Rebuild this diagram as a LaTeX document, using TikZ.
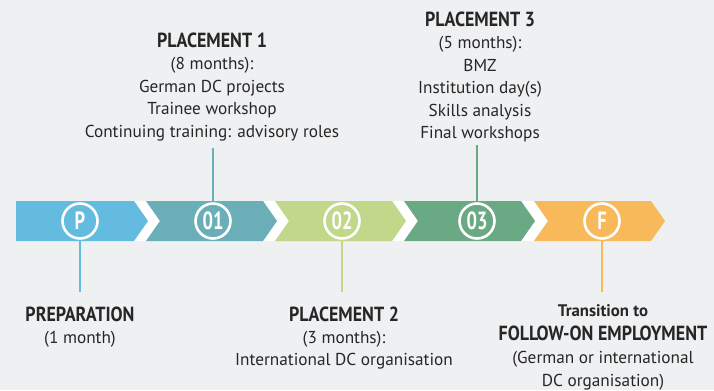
\documentclass[tikz,border=0pt]{standalone}
\usepackage{fontspec}
\setmainfont{PT Sans}
\newfontfamily\hdfont[FakeStretch=0.88]{PT Sans}
\newfontfamily\numfont[FakeStretch=0.74]{PT Sans}
\definecolor{bgc}{HTML}{EFF0F2}
\definecolor{cP}{HTML}{63BBE0}
\definecolor{cA}{HTML}{6AAFB8}
\definecolor{cB}{HTML}{C1D88A}
\definecolor{cC}{HTML}{69A984}
\definecolor{cF}{HTML}{F7B95A}
\definecolor{txt}{HTML}{262626}
\tikzset{
  seg/.style={fill=#1, draw=none},
  gapw/.style={fill=white, draw=none},
  ring/.style={circle, draw=white, line width=2.6bp, minimum size=35bp, inner sep=0pt,
    text=white, font=\numfont\bfseries\fontsize{25}{25}\selectfont},
  stem/.style={draw=#1, line width=2.4bp},
  lbl/.style={anchor=base, text=txt, inner sep=0pt, font=\fontsize{17.3}{20}\selectfont},
  hd/.style={anchor=base, text=txt, inner sep=0pt, font=\hdfont\bfseries\fontsize{20.5}{22}\selectfont},
  hdsmall/.style={anchor=base, text=txt, inner sep=0pt, font=\bfseries\fontsize{16.8}{20}\selectfont}
}
\begin{document}
\begin{tikzpicture}[x=1bp,y=-1bp]
\fill[bgc] (0,0) rectangle (714,390);
\useasboundingbox (0,0) rectangle (714,390);
% white chevron gaps
\fill[gapw] (134,201) -- (146,201) -- (160,221) -- (146,241) -- (134,241) -- (148,221) -- cycle;
\fill[gapw] (263,201) -- (275,201) -- (289,221) -- (275,241) -- (263,241) -- (277,221) -- cycle;
\fill[gapw] (392,201) -- (404,201) -- (418,221) -- (404,241) -- (392,241) -- (406,221) -- cycle;
\fill[gapw] (521,201) -- (534,201) -- (548,221) -- (534,241) -- (521,241) -- (535,221) -- cycle;
% segments
\fill[seg=cP] (16,201) -- (134,201) -- (148,221) -- (134,241) -- (16,241) -- cycle;
\fill[seg=cA] (146,201) -- (263,201) -- (277,221) -- (263,241) -- (146,241) -- (160,221) -- cycle;
\fill[seg=cB] (275,201) -- (392,201) -- (406,221) -- (392,241) -- (275,241) -- (289,221) -- cycle;
\fill[seg=cC] (404,201) -- (521,201) -- (535,221) -- (521,241) -- (404,241) -- (418,221) -- cycle;
\fill[seg=cF] (534,201) -- (651,201) -- (665,221) -- (651,241) -- (534,241) -- (548,221) -- cycle;
% circles
\node[ring] (nP) at (80,221) {P};
\node[ring] (n1) at (213,221) {01};
\node[ring] (n2) at (342,221) {02};
\node[ring] (n3) at (477,221) {03};
\node[ring] (nF) at (602,221) {F};
% stem end points
\coordinate (eP) at (80,292);
\coordinate (e1) at (213,148);
\coordinate (e2) at (342,292);
\coordinate (e3) at (477,145);
\coordinate (eF) at (602,292);
\draw[stem=cP] (nP.south) -- (eP);
\draw[stem=cA] (n1.north) -- (e1);
\draw[stem=cB] (n2.south) -- (e2);
\draw[stem=cC] (n3.north) -- (e3);
\draw[stem=cF] (nF.south) -- (eF);
% Placement 1
\node[hd] (t1h) at (212,47) {PLACEMENT 1};
\node[lbl] (t1a) at (212,69) {(8 months):};
\node[lbl] (t1b) at (212,92) {German DC projects};
\node[lbl] (t1c) at (212,114) {Trainee workshop};
\node[lbl] (t1d) at (212,137) {Continuing training: advisory roles};
% Placement 3
\node[hd] (t3h) at (480,26) {PLACEMENT 3};
\node[lbl] (t3a) at (480,48) {(5 months):};
\node[lbl] (t3b) at (480,71) {BMZ};
\node[lbl] (t3c) at (480,93) {Institution day(s)};
\node[lbl] (t3d) at (480,116) {Skills analysis};
\node[lbl] (t3e) at (480,138) {Final workshops};
% Preparation
\node[hd] (tPh) at (80,321) {PREPARATION};
\node[lbl] (tPa) at (80,343) {(1 month)};
% Placement 2
\node[hd] (t2h) at (344,321) {PLACEMENT 2};
\node[lbl] (t2a) at (344,343) {(3 months):};
\node[lbl] (t2b) at (344,365) {International DC organisation};
% Follow-on
\node[hdsmall] (tFa) at (603,316) {Transition to};
\node[hd] (tFh) at (603,340) {FOLLOW-ON EMPLOYMENT};
\node[lbl] (tFb) at (603,363) {(German or international};
\node[lbl] (tFc) at (603,386) {DC organisation)};
\end{tikzpicture}
\end{document}
